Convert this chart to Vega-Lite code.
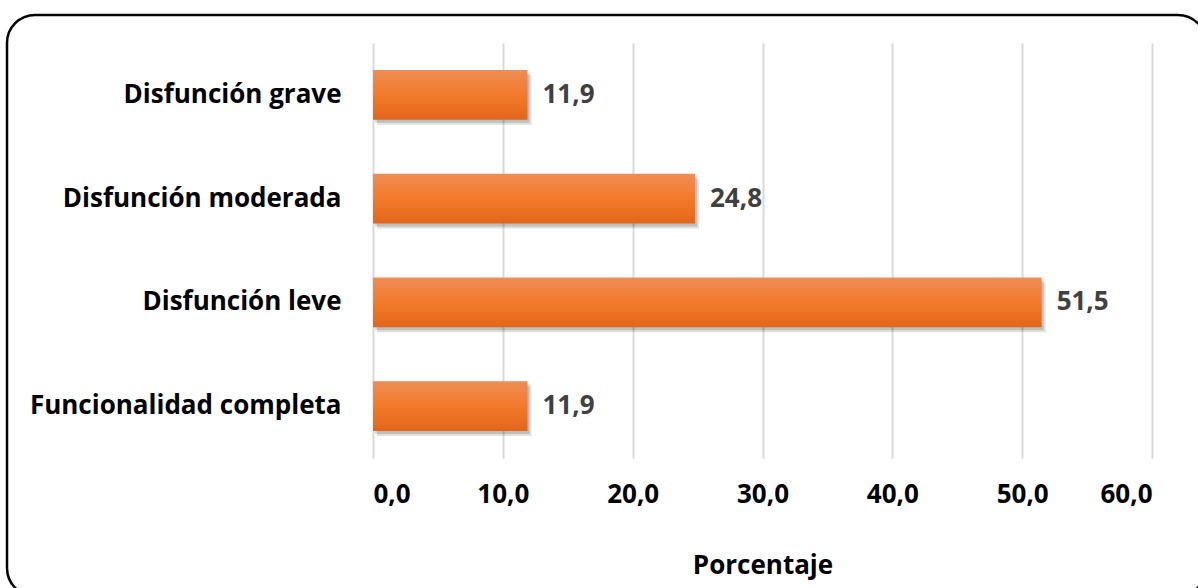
{
  "$schema": "https://vega.github.io/schema/vega-lite/v6.json",
  "width": 779,
  "height": 415,
  "autosize": {"type": "none"},
  "padding": {"left": 373, "top": 43, "right": 46, "bottom": 130},
  "background": "white",
  "config": {
    "locale": {
      "number": {"decimal": ",", "thousands": ".", "grouping": [3], "currency": ["", " €"]}
    },
    "view": {"stroke": null},
    "font": "Open Sans"
  },
  "data": {
    "values": [
      {"categoria": "Disfunción grave", "porcentaje": 11.9},
      {"categoria": "Disfunción moderada", "porcentaje": 24.8},
      {"categoria": "Disfunción leve", "porcentaje": 51.5},
      {"categoria": "Funcionalidad completa", "porcentaje": 11.9}
    ]
  },
  "encoding": {
    "y": {
      "field": "categoria",
      "type": "nominal",
      "sort": null,
      "scale": {"paddingInner": 0.52, "paddingOuter": 0.26},
      "axis": {
        "title": null,
        "domain": false,
        "ticks": false,
        "grid": false,
        "labelPadding": 32,
        "labelFont": "Open Sans",
        "labelFontSize": 26,
        "labelFontWeight": "bold",
        "labelColor": "#000000",
        "labelLimit": 400
      }
    },
    "x": {
      "field": "porcentaje",
      "type": "quantitative",
      "scale": {"domain": [0, 60], "nice": false},
      "axis": {
        "title": "Porcentaje",
        "values": [0, 10, 20, 30, 40, 50, 60],
        "format": ".1f",
        "domain": false,
        "ticks": false,
        "grid": true,
        "gridColor": "#d9d9d9",
        "gridWidth": 2,
        "labelPadding": 23,
        "labelFont": "Open Sans",
        "labelFontSize": 26,
        "labelFontWeight": "bold",
        "labelColor": "#000000",
        "titleFont": "Open Sans",
        "titleFontSize": 26,
        "titleFontWeight": "bold",
        "titleColor": "#000000",
        "titlePadding": 45
      }
    }
  },
  "layer": [
    {
      "data": {"values": [{"marco": "borde"}]},
      "mark": {
        "type": "rect",
        "x": {"expr": "-366"},
        "y": {"expr": "-28"},
        "x2": {"expr": "width + 54"},
        "y2": {"expr": "height + 138"},
        "fill": null,
        "stroke": "#000000",
        "strokeWidth": 2.5,
        "cornerRadius": 28,
        "clip": false
      },
      "encoding": {"x": null, "y": null}
    },
    {
      "mark": {"type": "bar", "color": "#000000", "opacity": 0.12, "xOffset": 4, "yOffset": 5}
    },
    {
      "mark": {"type": "bar", "color": "#000000", "opacity": 0.15, "xOffset": 2, "yOffset": 3}
    },
    {
      "mark": {
        "type": "bar",
        "color": {
          "gradient": "linear",
          "x1": 0, "y1": 0, "x2": 0, "y2": 1,
          "stops": [
            {"offset": 0, "color": "#EF8C55"},
            {"offset": 0.5, "color": "#F37A2A"},
            {"offset": 1, "color": "#E2661A"}
          ]
        }
      }
    },
    {
      "mark": {
        "type": "text",
        "align": "left",
        "baseline": "middle",
        "dx": 15,
        "font": "Open Sans",
        "fontSize": 26,
        "fontWeight": "bold",
        "color": "#404040"
      },
      "encoding": {
        "text": {"field": "porcentaje", "type": "quantitative", "format": ".1f"}
      }
    }
  ]
}
